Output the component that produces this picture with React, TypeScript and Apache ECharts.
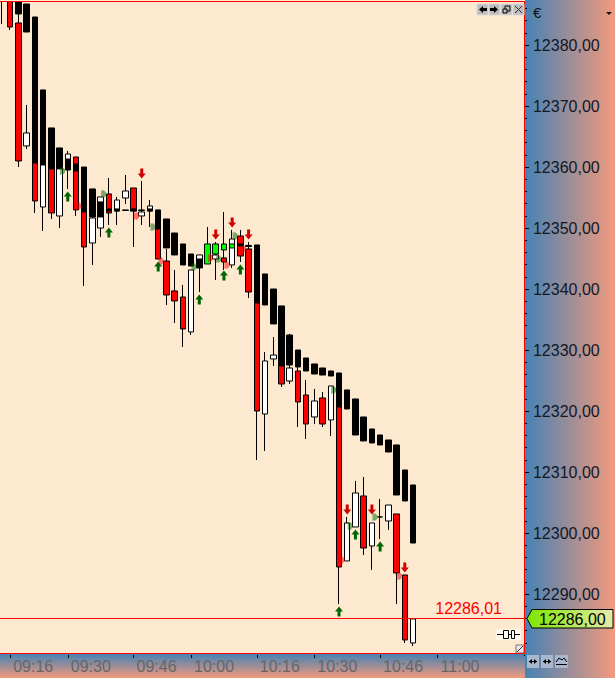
import React, { useEffect, useRef } from "react";
import * as echarts from "echarts";

const categories = ["09:14","09:16","09:18","09:20","09:22","09:24","09:26","09:28","09:30","09:32","09:34","09:36","09:38","09:40","09:42","09:44","09:46","09:48","09:50","09:52","09:54","09:56","09:58","10:00","10:02","10:04","10:06","10:08","10:10","10:12","10:14","10:16","10:18","10:20","10:22","10:24","10:26","10:28","10:30","10:32","10:34","10:36","10:38","10:40","10:42","10:44","10:46","10:48","10:50","10:52","10:54","10:56","10:58","11:00","11:02","11:04","11:06","11:08","11:10","11:12","11:14","11:16","11:18","11:20"];
const tickLabels = ["09:16","09:30","09:46","10:00","10:16","10:30","10:46","11:00"];

const candleOpen = [12388.69,12389.02,12383.61,12363.45,12361.15,12353.45,12360.33,12351.97,12359.84,12361.64,12352.96,12347.54,12350.00,12355.58,12352.79,12354.92,12356.56,12351.97,12352.79,12350.50,12344.59,12339.68,12338.69,12332.96,12343.94,12344.43,12344.92,12345.09,12343.94,12348.69,12346.56,12338.20,12319.51,12328.53,12328.37,12324.92,12326.56,12322.63,12319.02,12322.14,12318.53,12321.81,12295.42,12300.99,12306.07,12297.87,12302.63,12301.97,12303.12,12293.12,12281.97];
const candleClose = [12387.87,12382.95,12360.99,12365.58,12354.43,12361.15,12352.46,12360.33,12362.13,12352.96,12346.89,12351.64,12355.09,12352.46,12354.59,12356.07,12352.79,12352.63,12353.61,12344.92,12339.02,12338.04,12333.45,12343.12,12345.58,12346.73,12345.58,12344.43,12348.20,12345.41,12339.51,12320.00,12328.20,12329.18,12324.43,12327.05,12321.48,12317.87,12321.64,12317.87,12324.10,12294.43,12301.64,12306.56,12297.54,12301.64,12302.63,12304.59,12293.45,12282.47,12285.91];
const candleLow = [12383.45,12382.46,12360.00,12362.95,12352.46,12349.51,12351.48,12350.00,12356.40,12351.97,12340.50,12343.94,12348.53,12350.50,12350.50,12353.94,12346.89,12350.50,12350.17,12344.92,12337.38,12334.43,12330.50,12332.46,12339.51,12344.43,12341.48,12343.12,12343.45,12344.43,12338.53,12311.97,12313.45,12327.38,12323.94,12324.43,12317.38,12315.41,12317.87,12317.38,12315.91,12288.37,12295.42,12300.99,12296.40,12293.94,12299.02,12300.50,12288.37,12281.97,12281.48];
const candleHigh = [12389.02,12389.02,12385.74,12370.17,12361.15,12361.15,12360.33,12360.33,12362.63,12361.64,12352.96,12352.96,12355.09,12358.20,12355.09,12358.69,12356.56,12357.71,12354.59,12350.50,12346.56,12343.12,12340.66,12343.12,12345.58,12350.17,12347.71,12352.63,12349.68,12349.68,12347.71,12338.20,12329.68,12332.13,12328.37,12332.63,12327.22,12325.09,12323.61,12323.12,12324.10,12321.81,12302.63,12308.53,12309.18,12301.64,12305.58,12304.59,12303.12,12293.12,12285.91];

const blackTop = [null,null,12388.20,12386.72,12384.59,12372.63,12366.40,12363.12,12361.31,12360.50,12360.00,12356.40,12354.27,12353.12,12353.12,12352.96,12353.12,12352.96,12353.12,12352.96,12351.48,12349.18,12347.38,12345.74,12344.92,12347.38,12347.38,12347.38,12347.38,12347.38,12347.14,12347.22,12342.46,12340.00,12337.22,12332.46,12330.00,12328.69,12327.71,12327.05,12326.56,12326.23,12323.45,12321.97,12319.02,12317.05,12316.07,12315.25,12314.43,12310.33,12307.87];
const blackBottom = [null,null,12385.09,12382.13,12360.66,12360.33,12359.68,12359.68,12359.51,12359.35,12352.63,12351.81,12351.81,12352.79,12352.79,12352.87,12352.79,12352.87,12352.79,12349.84,12346.73,12345.58,12343.94,12343.77,12343.45,12344.10,12345.74,12346.40,12346.73,12347.05,12346.97,12337.71,12337.38,12334.27,12327.38,12327.54,12327.22,12326.56,12326.07,12325.90,12325.74,12320.66,12320.33,12316.07,12315.09,12314.76,12314.43,12313.28,12306.23,12305.25,12298.36];
const greenBars = [25,26,27,28];

const buyArrows = [[8,12355.17],[13,12349.27],[19,12343.69],[24,12338.28],[27,12342.22],[29,12343.20],[41,12287.14],[43,12299.76],[46,12297.79]];
const sellArrows = [[17,12358.94],[26,12348.94],[28,12350.91],[30,12348.94],[42,12303.86],[45,12303.86],[49,12294.35]];
const greenMarks = [[7,12359.35],[12,12355.58],[18,12350.17],[23,12343.61],[26,12344.92],[28,12348.69],[40,12323.45],[42,12301.15],[45,12302.63]];
const redMarks = [[9,12353.61],[16,12351.97],[19,12344.59],[25,12345.09],[27,12343.94],[29,12346.56],[41,12295.58],[48,12292.96]];

const priceLine = 12286.01;
const lastPrice = "12286,00";

const FONT = "Liberation Sans";
const BEIGE = "#FDE9CF";
const BLUE = "#4682B4";
const SALMON = "#F39A7C";
const RED = "#FF0000";

const UP_PATH = "path://M4 0L8 5H5.5V10H2.5V5H0Z";
const DOWN_PATH = "path://M2.5 0H5.5V5H8L4 10L0 5H2.5Z";
const CHECK_PATH = "path://M0 0h1v1h-1zM2 0h1v1h-1zM1 1h1v1h-1zM3 1h1v1h-1zM0 2h1v1h-1zM2 2h1v1h-1zM4 2h1v1h-1zM1 3h1v1h-1zM3 3h1v1h-1zM0 4h1v1h-1zM2 4h1v1h-1zM4 4h1v1h-1zM1 5h1v1h-1zM3 5h1v1h-1zM0 6h1v1h-1zM2 6h1v1h-1z";

function button(x: number, children: any[]) {
  return [{ type: "rect", z: 50, shape: { x, y: 4, width: 11, height: 11 }, style: { fill: "#BDBDBD", stroke: "#D8D8D8", lineWidth: 1 } }, ...children];
}

function buildGraphics() {
  const hGrad = new echarts.graphic.LinearGradient(0, 0, 1, 0, [{ offset: 0, color: BLUE }, { offset: 1, color: SALMON }]);
  const vGrad = new echarts.graphic.LinearGradient(0, 0, 0, 1, [{ offset: 0, color: BLUE }, { offset: 1, color: SALMON }]);
  const tagGrad = new echarts.graphic.LinearGradient(0, 0, 1, 0, [{ offset: 0, color: "#7CE600" }, { offset: 1, color: "#E8EAA8" }]);
  const line = (x1: number, y1: number, x2: number, y2: number, stroke: string, z = 50) => ({ type: "line", z, shape: { x1, y1, x2, y2 }, style: { stroke, lineWidth: 1 } });
  const bar = (x: number, y: number, width: number, height: number, fill: string, z = 50) => ({ type: "rect", z, shape: { x, y, width, height }, style: { fill } });
  const poly = (points: number[][], fill: string, z = 51) => ({ type: "polygon", z, shape: { points }, style: { fill } });
  return [
    { type: "rect", z: -5, shape: { x: 0, y: 0, width: 524, height: 654 }, style: { fill: BEIGE } },
    { type: "rect", z: -5, shape: { x: 525, y: 0, width: 90, height: 654 }, style: { fill: hGrad } },
    { type: "rect", z: -5, shape: { x: 0, y: 654, width: 525, height: 24 }, style: { fill: vGrad } },
    { type: "rect", z: 40, shape: { x: 525, y: 654, width: 90, height: 24 }, style: { fill: hGrad } },
    bar(0, 0, 524, 1, BEIGE, 40),
    bar(0, 1, 525, 1, RED),
    bar(0, 653, 525, 1, RED),
    bar(524, 1, 1, 653, RED),
    { type: "text", z: 50, style: { x: 533, y: 12, text: "€", font: `15px ${FONT}`, fill: "#111", textVerticalAlign: "middle" } },
    poly([[606, 12], [612, 12], [609, 15]], "#111"),
    ...button(477, [poly([[479, 9.5], [483, 6], [483, 8], [487, 8], [487, 11], [483, 11], [483, 13]], "#000")]),
    ...button(489, [poly([[498, 9.5], [494, 6], [494, 8], [490, 8], [490, 11], [494, 11], [494, 13]], "#000")]),
    ...button(501, [
      { type: "rect", z: 51, shape: { x: 505, y: 6, width: 5, height: 5 }, style: { fill: "#BDBDBD", stroke: "#000", lineWidth: 1 } },
      { type: "rect", z: 52, shape: { x: 503, y: 9, width: 4, height: 4 }, style: { fill: "#BDBDBD", stroke: "#000", lineWidth: 1 } },
    ]),
    ...button(513, [line(515, 6, 522, 13, "#333", 51), line(522, 6, 515, 13, "#333", 51)]),
    { type: "polygon", z: 50, shape: { points: [[527, 618.5], [532, 609.5], [613, 609.5], [613, 628], [532, 628]] }, style: { fill: tagGrad, stroke: "#000", lineWidth: 1 } },
    { type: "text", z: 51, style: { x: 539, y: 619, text: lastPrice, font: `16px ${FONT}`, fill: "#000", textVerticalAlign: "middle" } },
    { type: "rect", z: 45, shape: { x: 496, y: 629, width: 25, height: 11 }, style: { fill: "#FFF6EA" } },
    line(497, 634.5, 520, 634.5, "#000", 46),
    { type: "rect", z: 47, shape: { x: 503.5, y: 630.5, width: 5, height: 8 }, style: { fill: "#FFF", stroke: "#000", lineWidth: 1 } },
    { type: "rect", z: 47, shape: { x: 511.5, y: 630.5, width: 3, height: 8 }, style: { fill: "#FFF", stroke: "#000", lineWidth: 1 } },
    { type: "rect", z: 48, shape: { x: 516, y: 645, width: 8, height: 8 }, style: { fill: "#E8E8E8", stroke: "#777", lineWidth: 1 } },
    line(517, 652, 523, 646, "#333", 49),
    { type: "rect", z: 50, shape: { x: 527, y: 655, width: 12, height: 13 }, style: { fill: "#A9B7CC" } },
    { type: "rect", z: 50, shape: { x: 541, y: 655, width: 12, height: 13 }, style: { fill: "#A9B7CC" } },
    { type: "rect", z: 50, shape: { x: 555, y: 655, width: 13, height: 13 }, style: { fill: "#A9B7CC" } },
    line(529, 661.5, 537, 661.5, "#000", 51),
    poly([[529, 661.5], [532, 659], [532, 664]], "#000"),
    poly([[537, 661.5], [534, 659], [534, 664]], "#000"),
    line(543, 661.5, 551, 661.5, "#000", 51),
    poly([[543, 661.5], [546, 659], [546, 664]], "#000"),
    poly([[551, 661.5], [548, 659], [548, 664]], "#000"),
    { type: "polyline", z: 51, shape: { points: [[556, 662], [559, 658], [562, 660], [564, 658], [567, 662]] }, style: { stroke: "#000", fill: "none", lineWidth: 1 } },
    line(556, 664.5, 567, 664.5, "#000", 51),
  ];
}

export default function App() {
  const ref = useRef<HTMLDivElement>(null);
  useEffect(() => {
    document.body.style.margin = "0";
    const chart = echarts.init(ref.current!, undefined, { renderer: "svg" });
    const candleData = candleOpen.map((o, i) => [o, candleClose[i], candleLow[i], candleHigh[i]]);
    const blackData = blackTop.map((t, i) => {
      if (t === null) return { value: ["-", "-", "-", "-"] };
      const b = blackBottom[i] as number;
      const item: any = { value: [t, b, b, t] };
      if (greenBars.includes(i)) item.itemStyle = { color: "#00FF00", color0: "#00FF00" };
      return item;
    });
    const marks = (name: string, data: number[][], symbol: string, size: number[], color: string, offset: number[]) => ({
      name, type: "scatter", z: 6, data, symbol, symbolSize: size, symbolOffset: offset, itemStyle: { color, opacity: 1 }, silent: true,
    });
    chart.setOption({
      animation: false,
      backgroundColor: "transparent",
      grid: { left: -2.11, top: -16, width: 526.08, height: 671, outerBoundsMode: "none" },
      xAxis: {
        type: "category",
        data: categories,
        boundaryGap: true,
        axisLine: { show: false },
        axisTick: { show: true, length: 3, alignWithLabel: true, lineStyle: { color: "#000" }, interval: (_i: number, v: string) => tickLabels.includes(v) },
        axisLabel: {
          show: true, interval: (_i: number, v: string) => tickLabels.includes(v), align: "left", margin: 3, padding: [0, 0, 0, 3],
          color: "#666666", fontFamily: FONT, fontSize: 16, hideOverlap: false,
        },
        splitLine: { show: false },
      },
      yAxis: {
        type: "value",
        position: "right",
        min: 12280,
        max: 12390,
        interval: 10,
        axisLine: { show: false },
        axisTick: { show: true, length: 5, lineStyle: { color: "#000" } },
        minorTick: { show: true, splitNumber: 5, length: 3, lineStyle: { color: "#000" } },
        axisLabel: {
          margin: 9, color: "#111827", fontFamily: FONT, fontSize: 16,
          formatter: (v: number) => (v === 12280 || v === 12390 ? "" : v.toFixed(2).replace(".", ",")),
        },
        splitLine: { show: false },
      },
      series: [
        {
          name: "Price", type: "candlestick", z: 3, barWidth: 6, data: candleData, silent: true,
          itemStyle: { color: "#FFFFFF", color0: RED, borderColor: "#000", borderColor0: "#000", borderWidth: 1 },
          markLine: {
            silent: true, symbol: "none", animation: false, z: 5,
            lineStyle: { color: RED, type: "solid", width: 1, opacity: 1 },
            label: { show: true, position: "insideEndTop", distance: 2, padding: [0, 20, 0, 0], formatter: () => priceLine.toFixed(2).replace(".", ","), color: RED, fontFamily: FONT, fontSize: 16 },
            data: [{ yAxis: priceLine, lineStyle: { color: RED } }],
          },
        },
        {
          name: "Trend", type: "candlestick", z: 4, barWidth: 6, data: blackData, silent: true,
          itemStyle: { color: "#000", color0: "#000", borderColor: "#000", borderColor0: "#000", borderWidth: 1 },
        },
        marks("Buy", buyArrows, UP_PATH, [8, 10], "#006400", [0, 0]),
        marks("Sell", sellArrows, DOWN_PATH, [8, 10], "#D00000", [0, 0]),
        marks("Buy mark", greenMarks, CHECK_PATH, [5, 7], "#006400", [3, 0]),
        marks("Sell mark", redMarks, CHECK_PATH, [5, 7], "#FF0000", [3, 0]),
      ],
      graphic: buildGraphics(),
    });
    return () => chart.dispose();
  }, []);
  return <div ref={ref} style={{ width: 615, height: 678 }} />;
}
